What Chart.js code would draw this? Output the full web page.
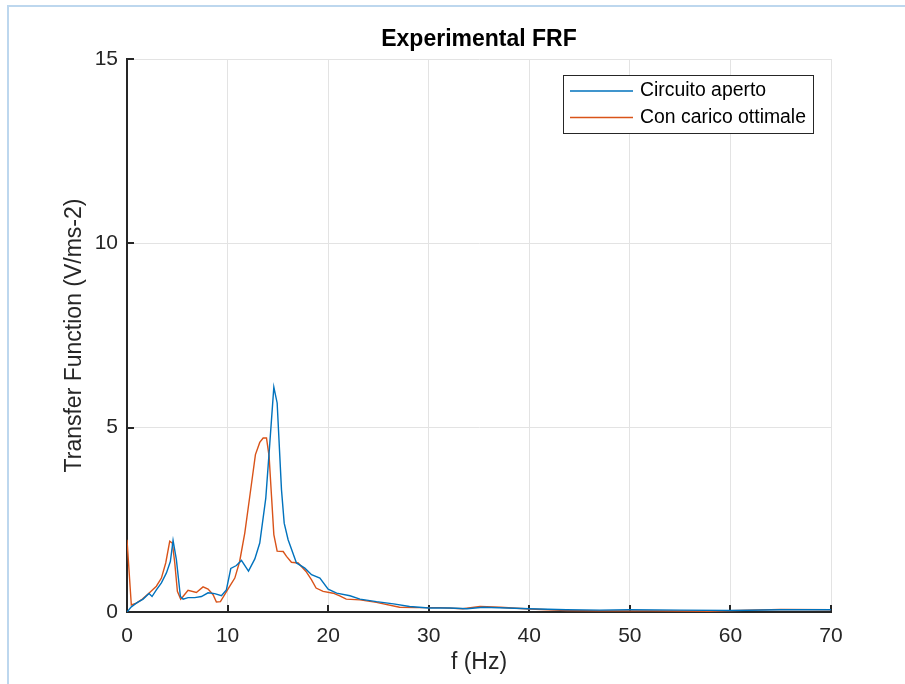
<!DOCTYPE html>
<html>
<head>
<meta charset="utf-8">
<title>Experimental FRF</title>
<script src="https://cdn.jsdelivr.net/npm/chart.js@4"></script>
<style>
  html, body { margin: 0; padding: 0; background: #fff; }
  #frame {
    position: absolute; left: 7px; top: 5px; width: 898px; height: 679px;
    border-top: 2px solid #bdd7ee; border-left: 2px solid #bdd7ee; box-sizing: border-box;
  }
  #wrap { position: absolute; left: 0; top: 0; width: 905px; height: 684px; }
</style>
</head>
<body>
<div id="frame"></div>
<div id="wrap"><canvas id="frf" width="905" height="684"></canvas></div>
<script>
// Frequency axis ticks (Hz) and magnitude ticks (V/ms-2)
const xTicks = [0, 10, 20, 30, 40, 50, 60, 70];
const yTicks = [0, 5, 10, 15];

// Open circuit FRF
const freqOpen = [0, 0.43, 0.93, 1.6, 2.19, 2.49, 2.92, 3.42, 3.92, 4.31, 4.58, 4.91, 5.31, 5.58,
  6.07, 6.74, 7.4, 8.06, 8.72, 9.39, 9.88, 10.32, 10.88, 11.38, 12.08, 12.71, 13.2, 13.8, 14.2,
  14.6, 14.93, 15.36, 15.63, 16.02, 16.85, 17.68, 18.35, 19.18, 20.0, 20.85, 22.17, 23.17, 24.8,
  26.5, 28.1, 30.0, 32.1, 33.8, 35.4, 37.8, 40.0, 43.7, 47.0, 50.0, 55.0, 60.0, 65.0, 70.0];
const magOpen = [0, 0.14, 0.24, 0.35, 0.5, 0.42, 0.6, 0.79, 1.06, 1.37, 1.94, 1.42, 0.42, 0.35,
  0.39, 0.39, 0.42, 0.52, 0.5, 0.44, 0.6, 1.18, 1.26, 1.4, 1.11, 1.44, 1.87, 3.09, 4.58,
  6.1, 5.67, 3.32, 2.41, 1.96, 1.33, 1.19, 1.01, 0.92, 0.62, 0.51, 0.44, 0.35, 0.28,
  0.22, 0.15, 0.11, 0.11, 0.09, 0.13, 0.11, 0.09, 0.06, 0.05, 0.06, 0.05, 0.04, 0.06, 0.06];

// FRF with optimal resistive load
const freqLoad = [0, 0.43, 0.93, 1.53, 2.26, 2.92, 3.42, 3.85, 4.25, 4.51, 4.75, 5.01, 5.34, 5.57,
  6.07, 6.9, 7.56, 8.06, 8.56, 8.89, 9.29, 9.71, 10.22, 10.72, 11.2, 11.71, 12.21, 12.77, 13.2,
  13.54, 13.87, 14.13, 14.37, 14.6, 14.93, 15.53, 15.86, 16.35, 17.02, 17.8, 18.35, 18.8, 19.5,
  20.5, 21.15, 21.8, 23.17, 24.8, 27.1, 28.8, 31.1, 33.4, 35.1, 37.1, 40.0, 43.7, 47.0, 52.0,
  58.0, 62.0, 65.0, 70.0];
const magLoad = [1.96, 0.19, 0.24, 0.35, 0.53, 0.7, 0.92, 1.33, 1.92, 1.87, 1.33, 0.56, 0.35, 0.42,
  0.59, 0.53, 0.68, 0.62, 0.47, 0.27, 0.28, 0.47, 0.7, 0.92, 1.37, 2.14, 3.14, 4.27, 4.6,
  4.72, 4.72, 4.22, 3.14, 2.1, 1.65, 1.64, 1.51, 1.35, 1.33, 1.1, 0.87, 0.65, 0.56,
  0.51, 0.44, 0.35, 0.33, 0.26, 0.13, 0.12, 0.12, 0.09, 0.15, 0.13, 0.08, 0.04, 0.03, 0.03,
  0.02, 0.05, 0.07, 0.06];

const seriesLabels = ['Circuito aperto', 'Con carico ottimale'];
const titleText = 'Experimental FRF';

const FONT = "'Liberation Sans', Arial, Helvetica, sans-serif";
const INK = '#262626';

const toPoints = (xs, ys) => xs.map((x, i) => ({ x: x, y: ys[i] }));

// Title centred over the plotting area
const titlePlugin = {
  id: 'axesTitle',
  afterDraw(chart) {
    const { ctx, chartArea } = chart;
    ctx.save();
    ctx.font = 'bold 23px ' + FONT;
    ctx.fillStyle = '#000';
    ctx.textAlign = 'center';
    ctx.textBaseline = 'middle';
    ctx.fillText(titleText, (chartArea.left + chartArea.right) / 2, 40);
    ctx.restore();
  }
};

// Inward tick marks on the left and bottom axes
const innerTicks = {
  id: 'innerTicks',
  beforeDatasetsDraw(chart) {
    const { ctx, chartArea, scales } = chart;
    ctx.save();
    ctx.strokeStyle = INK;
    ctx.lineWidth = 2;
    ctx.beginPath();
    xTicks.forEach(v => {
      const px = Math.round(scales.x.getPixelForValue(v));
      ctx.moveTo(px, chartArea.bottom);
      ctx.lineTo(px, chartArea.bottom - 7);
    });
    yTicks.forEach(v => {
      const py = Math.round(scales.y.getPixelForValue(v));
      ctx.moveTo(chartArea.left, py);
      ctx.lineTo(chartArea.left + 7, py);
    });
    ctx.stroke();
    ctx.restore();
  }
};

// Boxed legend in the upper right corner of the axes
const boxLegend = {
  id: 'boxLegend',
  afterDraw(chart) {
    const { ctx, chartArea } = chart;
    const right = chartArea.right - 18;
    const top = chartArea.top + 16;
    const w = 250, h = 58;
    const left = right - w;
    ctx.save();
    ctx.fillStyle = '#fff';
    ctx.fillRect(left, top, w, h);
    ctx.strokeStyle = INK;
    ctx.lineWidth = 1;
    ctx.strokeRect(left + 0.5, top + 0.5, w, h);
    ctx.font = '19.4px ' + FONT;
    ctx.textBaseline = 'middle';
    ctx.textAlign = 'left';
    chart.data.datasets.forEach((ds, i) => {
      const y = top + 16 + i * 26.5;
      ctx.strokeStyle = ds.borderColor;
      ctx.lineWidth = 1.3;
      ctx.beginPath();
      ctx.moveTo(left + 7, y);
      ctx.lineTo(left + 70, y);
      ctx.stroke();
      ctx.fillStyle = '#000';
      ctx.fillText(ds.label, left + 77, y);
    });
    ctx.restore();
  }
};

new Chart(document.getElementById('frf'), {
  type: 'line',
  data: {
    datasets: [
      { label: seriesLabels[0], data: toPoints(freqOpen, magOpen), borderColor: '#0072BD',
        borderWidth: 1.4, pointRadius: 0, tension: 0, fill: false },
      { label: seriesLabels[1], data: toPoints(freqLoad, magLoad), borderColor: '#D95319',
        borderWidth: 1.4, pointRadius: 0, tension: 0, fill: false }
    ]
  },
  options: {
    responsive: false,
    animation: false,
    events: [],
    layout: { padding: { left: 0, right: 74, top: 59, bottom: 0 } },
    plugins: { legend: { display: false }, title: { display: false }, tooltip: { enabled: false } },
    scales: {
      x: {
        type: 'linear', min: 0, max: 70,
        afterBuildTicks: s => { s.ticks = xTicks.map(v => ({ value: v })); },
        afterFit: s => { s.height = 72; },
        grid: { color: '#e3e3e3', lineWidth: 1, drawTicks: false },
        border: { display: true, color: INK, width: 2 },
        ticks: { color: INK, font: { family: FONT, size: 21 }, padding: 12, maxRotation: 0 },
        title: { display: true, text: 'f (Hz)', color: INK, font: { family: FONT, size: 23 },
          padding: { top: 0, bottom: 7.2 } }
      },
      y: {
        type: 'linear', min: 0, max: 15,
        afterBuildTicks: s => { s.ticks = yTicks.map(v => ({ value: v })); },
        afterFit: s => { s.width = 127; },
        grid: { color: '#e3e3e3', lineWidth: 1, drawTicks: false },
        border: { display: true, color: INK, width: 2 },
        ticks: { color: INK, font: { family: FONT, size: 21 }, padding: 9 },
        title: { display: true, text: 'Transfer Function (V/ms-2)', color: INK,
          font: { family: FONT, size: 23 }, padding: { top: 61.2, bottom: 0 } }
      }
    }
  },
  plugins: [innerTicks, titlePlugin, boxLegend]
});
</script>
</body>
</html>
